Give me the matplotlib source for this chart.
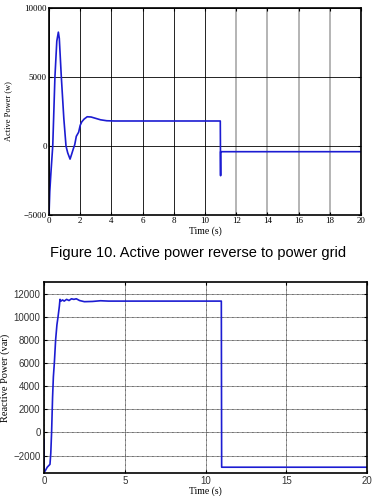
import matplotlib
matplotlib.use('Agg')
import matplotlib.pyplot as plt

# Figure 10: active power (W)
t_active = [0, 0.05, 0.12, 0.24, 0.38, 0.5, 0.6, 0.66, 0.79, 0.95, 1.09, 1.2, 1.35,
            1.45, 1.56, 1.65, 1.75, 1.9, 2.0, 2.1, 2.25, 2.45, 2.7, 3.0, 3.3, 3.7,
            4.2, 10.98, 11.0, 11.0, 20]
p_active = [-5000, -3300, -2000, 0, 5000, 7600, 8250, 7800, 5000, 2000, 0, -500, -950,
            -600, -200, 100, 700, 1000, 1500, 1750, 1950, 2120, 2100, 2000, 1900, 1830,
            1812, 1812, -2150, -413, -413]

# Figure 11: reactive power (var)
t_reactive = [0, 0.01, 0.06, 0.2, 0.37, 0.42, 0.47, 0.53, 0.58, 0.64, 0.72, 0.8, 0.87,
              0.95, 0.99, 1.05, 1.15, 1.25, 1.4, 1.55, 1.7, 1.85, 2.0, 2.2, 2.5, 3.0,
              3.5, 4.0, 10.98, 11.0, 20]
q_reactive = [-600, -3400, -3350, -3000, -2750, -1800, 0, 3000, 4800, 6000, 8000, 9300, 10000,
              10900, 11500, 11350, 11450, 11350, 11500, 11400, 11550, 11500, 11550, 11400, 11300, 11320,
              11380, 11350, 11350, -3000, -3000]

serif = 'Liberation Serif'
sans = 'Liberation Sans'
line_color = '#1c1cd2'

fig = plt.figure(figsize=(3.86, 4.96), dpi=100)

# ---- top chart
ax1 = fig.add_axes([49/386, 1 - 215/496, 312/386, 207/496])
ax1.plot(t_active, p_active, color=line_color, lw=1.2)
ax1.set_xlim(0, 20)
ax1.set_ylim(-5000, 10000)
ax1.set_xticks(range(0, 21, 2))
ax1.set_yticks([-5000, 0, 5000, 10000])
ax1.grid(True, color='k', lw=0.6)
for x, gl in zip(ax1.get_xticks(), ax1.xaxis.get_gridlines()):
    if x >= 12:
        gl.set_color('#b4b4b4')
        gl.set_linewidth(1.4)
ax1.tick_params(direction='in', length=2.5, width=0.8, top=True, right=True,
                labelsize=6.5, pad=1.5)
for lab in ax1.get_xticklabels() + ax1.get_yticklabels():
    lab.set_family(serif)
ax1.set_xlabel('Time (s)', family=serif, fontsize=7, labelpad=1)
ax1.set_ylabel('Active Power (w)', family=serif, fontsize=6, labelpad=8)
for s in ax1.spines.values():
    s.set_linewidth(1.2)

fig.text(0.514, 1 - 253/496, 'Figure 10. Active power reverse to power grid',
         family=sans, fontsize=10.5, ha='center', va='center')

# ---- bottom chart
ax2 = fig.add_axes([44/386, 23/496, 323/386, 191/496])
ax2.plot(t_reactive, q_reactive, color=line_color, lw=1.2)
ax2.set_xlim(0, 20)
ax2.set_ylim(-3500, 13000)
ax2.set_xticks([0, 5, 10, 15, 20])
ax2.set_yticks(range(-2000, 12001, 2000))
ax2.grid(True, color='#333333', lw=0.6, linestyle=(0, (1, 0.5)))
ax2.tick_params(direction='in', length=2.5, width=0.8, top=True, right=True,
                labelsize=7, pad=2.5, colors='k')
for lab in ax2.get_xticklabels() + ax2.get_yticklabels():
    lab.set_family(sans)
    lab.set_color('#333333')
ax2.set_xlabel('Time (s)', family=serif, fontsize=7)
ax2.xaxis.set_label_coords(0.5, -0.07)
ax2.set_ylabel('Reactive Power (var)', family=serif, fontsize=7.5)
ax2.yaxis.set_label_coords(-0.106, 0.5)
for s in ax2.spines.values():
    s.set_linewidth(1.2)

fig.savefig('out.png', dpi=100)
